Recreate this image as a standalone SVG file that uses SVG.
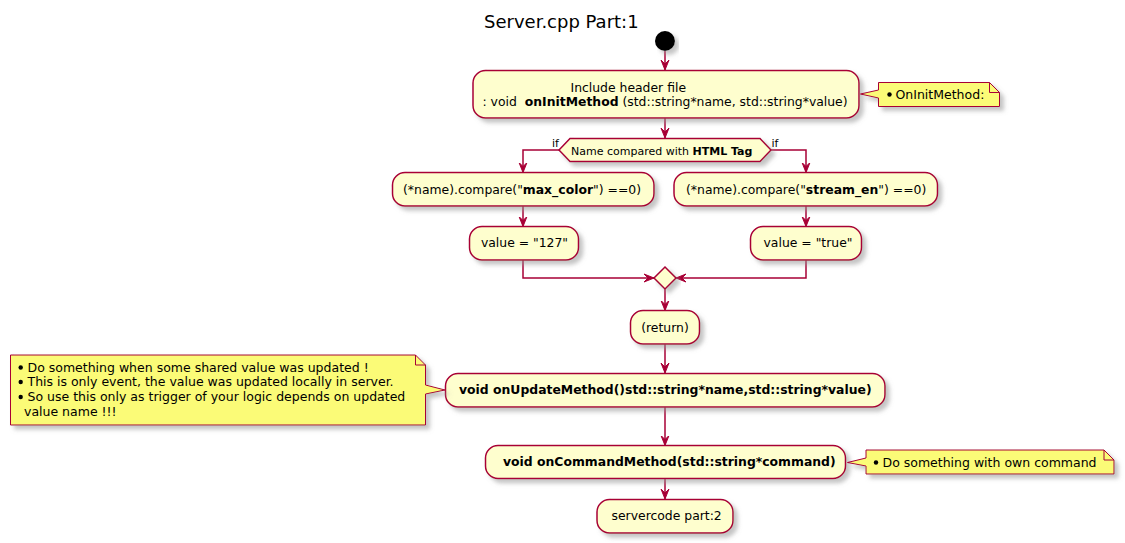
<svg xmlns="http://www.w3.org/2000/svg" width="1125" height="543" viewBox="0 0 1125 543">
<style>
  text { font-family: "DejaVu Sans", "Liberation Sans", sans-serif; fill: #000000; }
  .t { font-size: 12.4px; }
  .b { font-weight: bold; }
  .n { font-size: 12.5px; }
  .s { font-size: 11px; }
  .title { font-size: 18px; }
  .act { fill: #FEFECE; stroke: #A80036; stroke-width: 1.5; }
  .note { fill: #FBFB77; stroke: #A80036; stroke-width: 1; }
  .fold { fill: none; stroke: #A80036; stroke-width: 1; }
  .edge { fill: none; stroke: #A80036; stroke-width: 1.5; }
  .bul { fill: #000000; }
</style>
<defs>
  <filter id="sh" x="-10%" y="-20%" width="130%" height="160%">
    <feGaussianBlur in="SourceAlpha" stdDeviation="2"/>
    <feOffset dx="4" dy="4" result="o"/>
    <feColorMatrix in="o" type="matrix" values="0 0 0 0 0.3  0 0 0 0 0.3  0 0 0 0 0.3  0 0 0 0.55 0" result="c"/>
    <feMerge><feMergeNode in="c"/><feMergeNode in="SourceGraphic"/></feMerge>
  </filter>
  <marker id="ah" markerUnits="userSpaceOnUse" markerWidth="11" markerHeight="10" refX="10" refY="4" orient="auto" viewBox="0 0 11 8">
    <path d="M0,0 L10,4 L0,8 L4,4 Z" fill="#A80036" stroke="#A80036" stroke-width="1"/>
  </marker>
</defs>

<text class="title" x="484" y="28">Server.cpp Part:1</text>

<g id="connectors">
  <path class="edge" d="M665,51 L665,70" marker-end="url(#ah)"/>
  <path class="edge" d="M665,118 L665,138" marker-end="url(#ah)"/>
  <path class="edge" d="M559,150 L523,150 L523,172.5" marker-end="url(#ah)"/>
  <path class="edge" d="M771,150 L806,150 L806,172.5" marker-end="url(#ah)"/>
  <path class="edge" d="M523,206 L523,226.5" marker-end="url(#ah)"/>
  <path class="edge" d="M806,206 L806,226.5" marker-end="url(#ah)"/>
  <path class="edge" d="M523,260 L523,278 L654,278" marker-end="url(#ah)"/>
  <path class="edge" d="M806,260 L806,278 L676,278" marker-end="url(#ah)"/>
  <path class="edge" d="M665,289 L665,310.5" marker-end="url(#ah)"/>
  <path class="edge" d="M665,344 L665,373" marker-end="url(#ah)"/>
  <path class="edge" d="M665,407 L665,445.5" marker-end="url(#ah)"/>
  <path class="edge" d="M665,478.5 L665,499" marker-end="url(#ah)"/>
  <text class="s" x="552" y="147">if</text>
  <text class="s" x="771.5" y="147">if</text>
</g>

<g id="start">
  <circle cx="665" cy="41" r="10" fill="#000000" filter="url(#sh)"/>
</g>

<g id="include">
  <rect class="act" x="473" y="70.5" width="386" height="47.5" rx="12.5" ry="12.5" filter="url(#sh)"/>
  <text class="t" x="570.5" y="92">Include header file</text>
  <text class="t" x="482.5" y="106" xml:space="preserve">: void  <tspan class="b">onInitMethod</tspan> (std::string*name, std::string*value)</text>
</g>

<g id="note-init">
  <path class="note" d="M878.5,82.5 L989.5,82.5 L999.5,92.5 L999.5,106.5 L878.5,106.5 L878.5,98 L860.5,94 L878.5,90 Z" filter="url(#sh)"/>
  <path class="fold" d="M989.5,82.5 L989.5,92.5 L999.5,92.5"/>
  <circle class="bul" cx="889.5" cy="94.5" r="2.2"/>
  <text class="n" x="895.5" y="98.5">OnInitMethod:</text>
</g>

<g id="decision">
  <polygon class="act" points="559,150 570,138.5 760,138.5 771,150 760,161.5 570,161.5" filter="url(#sh)"/>
  <text class="s" x="571" y="155">Name compared with <tspan class="b">HTML Tag</tspan></text>
</g>

<g id="max-color">
  <rect class="act" x="392.5" y="172.5" width="261.5" height="33.5" rx="12.5" ry="12.5" filter="url(#sh)"/>
  <text class="t" x="403" y="194">(*name).compare("<tspan class="b">max_color</tspan>") ==0)</text>
</g>

<g id="stream-en">
  <rect class="act" x="674" y="172.5" width="263.5" height="33.5" rx="12.5" ry="12.5" filter="url(#sh)"/>
  <text class="t" x="686" y="193.5">(*name).compare("<tspan class="b">stream_en</tspan>") ==0)</text>
</g>

<g id="value-127">
  <rect class="act" x="469.5" y="226.5" width="109" height="33.5" rx="12.5" ry="12.5" filter="url(#sh)"/>
  <text class="t" x="524.5" y="247" text-anchor="middle">value = "127"</text>
</g>

<g id="value-true">
  <rect class="act" x="750.5" y="226.5" width="111" height="33.5" rx="12.5" ry="12.5" filter="url(#sh)"/>
  <text class="t" x="808" y="247" text-anchor="middle">value = "true"</text>
</g>

<g id="merge">
  <polygon class="act" points="665,267 676,278 665,289 654,278" filter="url(#sh)"/>
</g>

<g id="return">
  <rect class="act" x="630.5" y="310.5" width="69" height="33.5" rx="12.5" ry="12.5" filter="url(#sh)"/>
  <text class="t" x="665" y="332" text-anchor="middle">(return)</text>
</g>

<g id="update">
  <rect class="act" x="445.5" y="373.5" width="439.5" height="33.5" rx="12.5" ry="12.5" filter="url(#sh)"/>
  <text class="t b" x="459" y="393.5">void onUpdateMethod()std::string*name,std::string*value)</text>
</g>

<g id="note-update">
  <path class="note" d="M10.5,355 L415.5,355 L425.5,365 L425.5,385 L445,390 L425.5,394 L425.5,425 L10.5,425 Z" filter="url(#sh)"/>
  <path class="fold" d="M415.5,355 L415.5,365 L425.5,365"/>
  <circle class="bul" cx="20.7" cy="367.5" r="2.2"/>
  <circle class="bul" cx="20.7" cy="382" r="2.2"/>
  <circle class="bul" cx="20.7" cy="397" r="2.2"/>
  <text class="n" x="27.5" y="371.5">Do something when some shared value was updated !</text>
  <text class="n" x="27.5" y="386">This is only event, the value was updated locally in server.</text>
  <text class="n" x="27.5" y="401">So use this only as trigger of your logic depends on updated</text>
  <text class="n" x="24" y="416">value name !!!</text>
</g>

<g id="command">
  <rect class="act" x="485.5" y="445.5" width="360" height="33" rx="12.5" ry="12.5" filter="url(#sh)"/>
  <text class="t b" x="503" y="466">void onCommandMethod(std::string*command)</text>
</g>

<g id="note-command">
  <path class="note" d="M866,450 L1104,450 L1114,460 L1114,474 L866,474 L866,466 L847.5,462.5 L866,458 Z" filter="url(#sh)"/>
  <path class="fold" d="M1104,450 L1104,460 L1114,460"/>
  <circle class="bul" cx="876" cy="462.5" r="2.2"/>
  <text class="n" x="882.5" y="466.5">Do something with own command</text>
</g>

<g id="servercode">
  <rect class="act" x="597" y="499.5" width="136" height="33.5" rx="12.5" ry="12.5" filter="url(#sh)"/>
  <text class="t" x="611.5" y="519.5">servercode part:2</text>
</g>
</svg>
